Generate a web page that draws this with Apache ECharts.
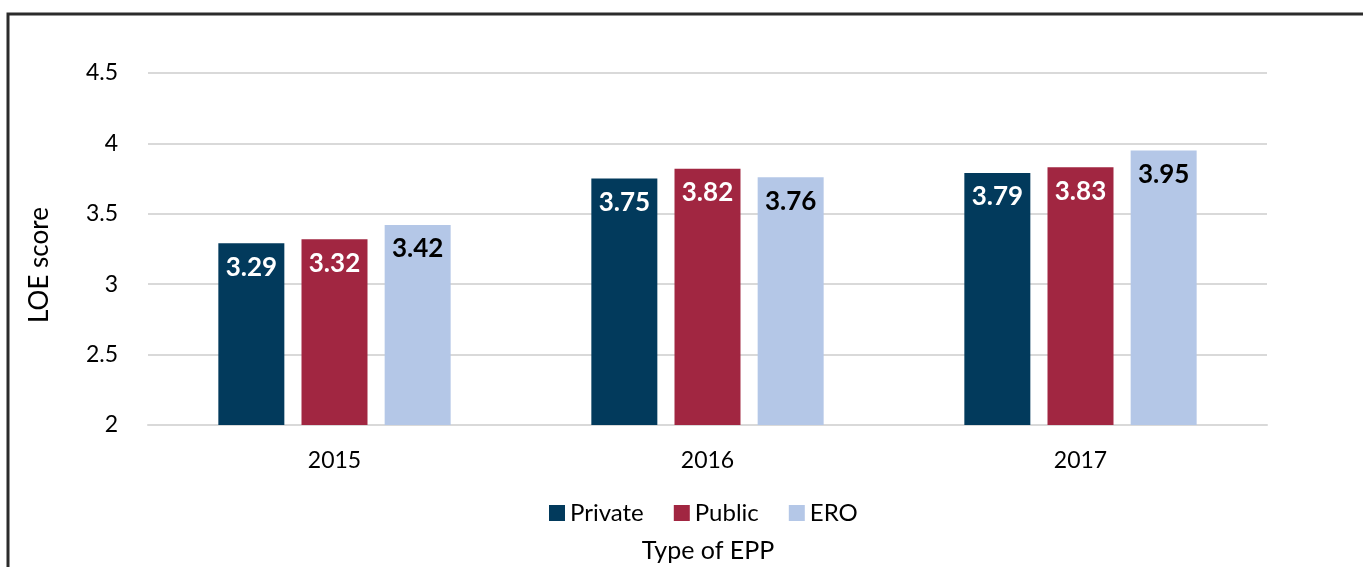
<!DOCTYPE html>
<html><head><meta charset="utf-8">
<script src="https://cdn.jsdelivr.net/npm/echarts@6/dist/echarts.min.js"></script>
<style>html,body{margin:0;padding:0;background:#fff}#c{width:1363px;height:567px}</style>
</head><body><div id="c"></div>
<script>
const categories = ['2015', '2016', '2017'];
const privateVals = [3.29, 3.75, 3.79];
const publicVals = [3.32, 3.82, 3.83];
const eroVals = [3.42, 3.76, 3.95];
const yTicks = [2, 2.5, 3, 3.5, 4, 4.5];

const FONT = 'Lato';
const chart = echarts.init(document.getElementById('c'));
function lbl(color){
  return {show:true, position:'insideTop', distance:11, color:color, fontFamily:FONT, fontWeight:'bold', fontSize:26,
    formatter: p => p.value.toFixed(2)};
}
chart.setOption({
  animation:false,
  textStyle:{fontFamily:FONT},
  graphic:[
    {type:'polyline', shape:{points:[[8,567],[8,14],[1363,14]]}, style:{stroke:'#2b2b2b', lineWidth:3, fill:null}},
    {type:'text', x:40, y:265, rotation:Math.PI/2, style:{text:'LOE score', fontFamily:FONT, fontSize:26, fill:'#000', align:'center', verticalAlign:'middle'}},
    {type:'text', x:708, y:551, style:{text:'Type of EPP', fontFamily:FONT, fontSize:25, fill:'#000', align:'center', verticalAlign:'middle'}}
  ],
  grid:{left:148, right:96, top:73, bottom:142, containLabel:false, outerBoundsMode:'none'},
  legend:{bottom:37, left:544, itemWidth:16, itemHeight:16, itemGap:30, icon:'rect',
    textStyle:{fontFamily:FONT, fontSize:24, color:'#000'}},
  xAxis:{type:'category', data:categories,
    axisLine:{show:true, lineStyle:{color:'#d9d9d9', width:2}}, axisTick:{show:false},
    axisLabel:{fontFamily:FONT, fontSize:23, color:'#000', margin:24}},
  yAxis:{type:'value', min:2, max:4.5, interval:0.5,
    axisLine:{show:false}, axisTick:{show:false},
    splitLine:{lineStyle:{color:'#d9d9d9', width:2}},
    axisLabel:{fontFamily:FONT, fontSize:23, color:'#000', margin:30,
      formatter: v => yTicks.includes(v) ? String(v) : ''}},
  series:[
    {name:'Private', type:'bar', data:privateVals, barWidth:66, barGap:'26%', itemStyle:{color:'#023A5C'}, label:lbl('#fff')},
    {name:'Public', type:'bar', data:publicVals, barWidth:66, itemStyle:{color:'#A12641'}, label:lbl('#fff')},
    {name:'ERO', type:'bar', data:eroVals, barWidth:66, itemStyle:{color:'#B4C7E7'}, label:lbl('#000')}
  ]
});
</script></body></html>
